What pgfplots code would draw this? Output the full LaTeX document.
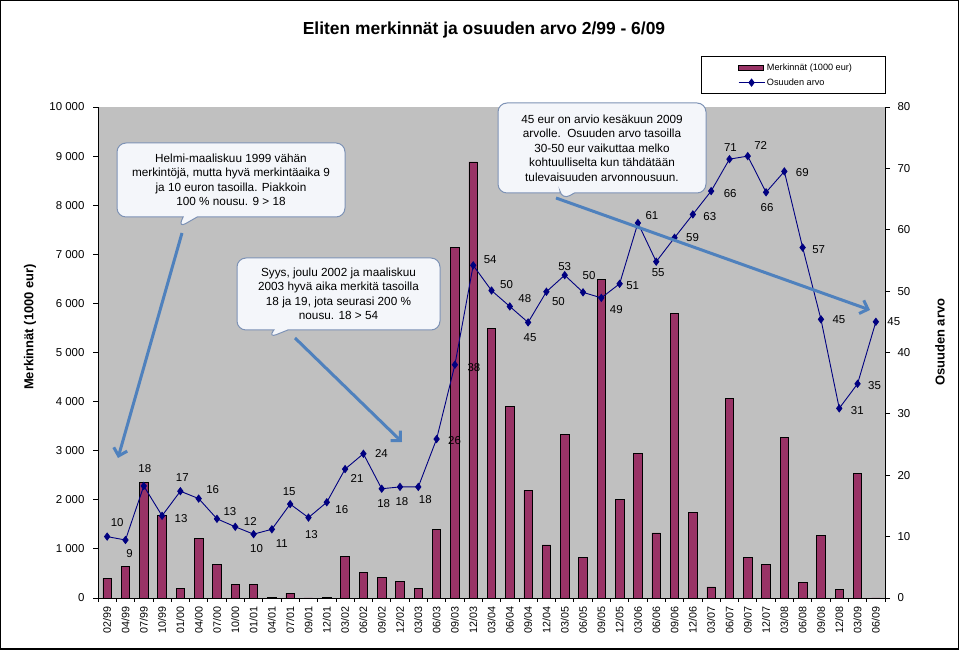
\documentclass[border=0pt]{standalone}
\usepackage{pgfplots}
\pgfplotsset{compat=1.18}
\usepackage{pgfplotstable}
\usepackage{fontspec}
\setmainfont{Liberation Sans}
\usetikzlibrary{shapes.callouts,arrows.meta}
\definecolor{plotgrey}{HTML}{C0C0C0}
\definecolor{barcol}{HTML}{993366}
\definecolor{navyline}{HTML}{000080}
\definecolor{callfill}{HTML}{F4F6FA}
\definecolor{calldraw}{HTML}{7D92B5}
\definecolor{arrowblue}{HTML}{4F81BD}
\pgfplotsset{
  mylinelegend/.style={legend image code/.code={\draw[mark repeat=2,mark phase=2,##1] plot coordinates {(0bp,0bp) (13bp,0bp) (26bp,0bp)};}},
  mybarlegend/.style={legend image code/.code={\draw[fill=barcol,draw=black,line width=0.8bp] (0bp,-2.5bp) rectangle (25bp,2.5bp);}},
}
\pgfplotstableread{
i m v lab dx dy
0 400 10.0 10 10 14
1 650 9.45 9 4 -14
2 2360 18.25 18 1 17
3 1680 13.4 13 19 -3
4 200 17.4 17 2 14
5 1220 16.2 16 14 9
6 680 12.9 13 13 7
7 285 11.6 12 15 5
8 285 10.4 10 3 -14
9 20 11.2 11 10 -14
10 100 15.3 15 -1 12
11 0 13.1 13 3 -17
12 20 15.6 16 15 -7
13 855 21.0 21 12 -9
14 517 23.5 24 18 0
15 420 17.8 18 2 -15
16 346 18.1 18 2 -15
17 200 18.1 18 7 -13
18 1390 25.9 26 18 -2
19 7140 38.0 38 19 -3
20 8880 54.2 54 17 6
21 5485 50.1 50 15 6
22 3900 47.5 48 15 8
23 2190 44.9 45 2 -15
24 1080 49.9 50 12 -10
25 3325 52.6 53 0 9
26 820 49.8 50 6 17
27 6480 48.9 49 15 -12
28 2015 51.2 51 13 -2
29 2945 61.1 61 14 7
30 1325 54.8 55 2 -11
31 5790 58.7 59 18 0
32 1740 62.5 63 17 -2
33 225 66.3 66 19 -2
34 4060 71.5 71 1 12
35 830 72.0 72 13 11
36 680 66.1 66 1 -15
37 3270 69.5 69 18 -1
38 320 57.1 57 16 -2
39 1270 45.4 45 18 0
40 176 30.9 31 18 -2
41 2530 34.9 35 17 -2
42 0 45.0 45 18 0
}\data
\begin{document}
\begin{tikzpicture}[x=1bp,y=1bp]
\path[use as bounding box] (0,0) rectangle (959,650);
\begin{axis}[
  scale only axis, width=787bp, height=491bp,
  at={(98bp,52bp)}, anchor=south west,
  xmin=-0.5, xmax=42.5, ymin=0, ymax=10000,
  scaled y ticks=false,
  axis background/.style={fill=plotgrey},
  axis x line*=bottom, axis y line*=left,
  axis line style={black, line width=0.8bp, -},
  tick align=outside,
  xtick={0,...,42},
  xticklabels={02/99,04/99,07/99,10/99,01/00,04/00,07/00,10/00,01/01,04/01,07/01,09/01,12/01,03/02,06/02,09/02,12/02,03/03,06/03,09/03,12/03,03/04,06/04,09/04,12/04,03/05,06/05,09/05,12/05,03/06,06/06,09/06,12/06,03/07,06/07,09/07,12/07,03/08,06/08,09/08,12/08,03/09,06/09},
  major x tick style={draw=none},
  minor xtick={-0.5,0.5,...,42.5},
  minor tick length=4bp,
  minor x tick style={black, line width=0.8bp},
  x tick label style={rotate=90, anchor=east, font=\fontsize{10.8}{12}\selectfont},
  ytick={0,1000,...,10000},
  yticklabels={0,1 000,2 000,3 000,4 000,5 000,6 000,7 000,8 000,9 000,10 000},
  major tick length=5bp,
  y tick style={black, line width=0.8bp},
  y tick label style={font=\fontsize{11.5}{12}\selectfont, xshift=-5bp},
  ylabel={\bfseries Merkinnät (1000 eur)},
  ylabel style={at={(axis description cs:-0.0864,0.552)}, anchor=center, font=\fontsize{13}{14}\selectfont},
  clip=false,
]
\addplot[ybar, bar width=8.5bp, fill=barcol, draw=black, line width=0.7bp] table[x=i,y=m] {\data};
\end{axis}
\begin{axis}[
  scale only axis, width=787bp, height=491bp,
  at={(98bp,52bp)}, anchor=south west,
  xmin=-0.5, xmax=42.5, ymin=0, ymax=80,
  axis x line=none, axis y line*=right,
  axis line style={black, line width=0.8bp, -},
  tick align=outside, major tick length=5bp,
  y tick style={black, line width=0.8bp},
  ytick={0,10,...,80},
  yticklabels={0,10,20,30,40,50,60,70,80},
  y tick label style={font=\fontsize{11.5}{12}\selectfont, xshift=4bp},
  ylabel={\bfseries Osuuden arvo},
  ylabel style={at={(axis description cs:1.0699,0.521)}, anchor=center, font=\fontsize{13}{14}\selectfont},
  clip=false,
  legend style={at={(axis description cs:0.887,1.065)}, anchor=center, draw=none, fill=none,
    font=\fontsize{9.2}{11}\selectfont, row sep=3bp, inner sep=1bp},
  legend cell align=left,
]
\addlegendimage{mybarlegend}
\addlegendentry{Merkinnät (1000 eur)}
\addplot[navyline, line width=0.9bp, mark=diamond*, mark size=3.5bp, mark options={fill=navyline, solid},
  nodes near coords, point meta=explicit symbolic,
  visualization depends on={\thisrow{dx}\as\dx},
  visualization depends on={\thisrow{dy}\as\dy},
  every node near coord/.append style={anchor=center, xshift=\dx bp, yshift=\dy bp, font=\fontsize{11.5}{12}\selectfont, text=black},
  mylinelegend
] table[x=i, y=v, meta=lab] {\data};
\addlegendentry{Osuuden arvo}
\end{axis}
\draw[black, line width=0.8bp] (701,557) rectangle (885,594);
\draw[black, line width=1.5bp] (0.75,0.75) rectangle (958.25,649.25);
\node[font=\bfseries\fontsize{17.5}{20}\selectfont] at (484,620) {Eliten merkinnät ja osuuden arvo 2/99 - 6/09};
\begin{scope}[every node/.style={rectangle callout, rounded corners=9bp, draw=calldraw, fill=callfill, line width=1bp, align=center, font=\fontsize{11.8}{14.5}\selectfont, inner sep=2bp, callout pointer width=14bp}]
\node[minimum width=228bp, minimum height=74bp, callout absolute pointer={(178,422)}] at (231,470)
 {Helmi-maaliskuu 1999 vähän\\merkintöjä, mutta hyvä merkintäaika 9\\ja 10 euron tasoilla. Piakkoin\\100 \% nousu. 9 > 18};
\node[minimum width=203bp, minimum height=72bp, callout absolute pointer={(268,312)}] at (338.5,356)
 {Syys, joulu 2002 ja maaliskuu\\2003 hyvä aika merkitä tasoilla\\18 ja 19, jota seurasi 200 \%\\nousu. 18 > 54};
\node[minimum width=208bp, minimum height=90bp, callout absolute pointer={(562,450)}] at (602,502)
 {45 eur on arvio kesäkuun 2009\\arvolle.\ \ Osuuden arvo tasoilla\\30-50 eur vaikuttaa melko\\kohtuulliselta kun tähdätään\\tulevaisuuden arvonnousuun.};
\end{scope}
\begin{scope}[arrowblue, line width=3bp, -{Straight Barb[length=7bp,width=14bp]}]
\draw (182,417) -- (118,192);
\draw (295,312) -- (402,208);
\draw (556,452) -- (870,340);
\end{scope}
\end{tikzpicture}
\end{document}
